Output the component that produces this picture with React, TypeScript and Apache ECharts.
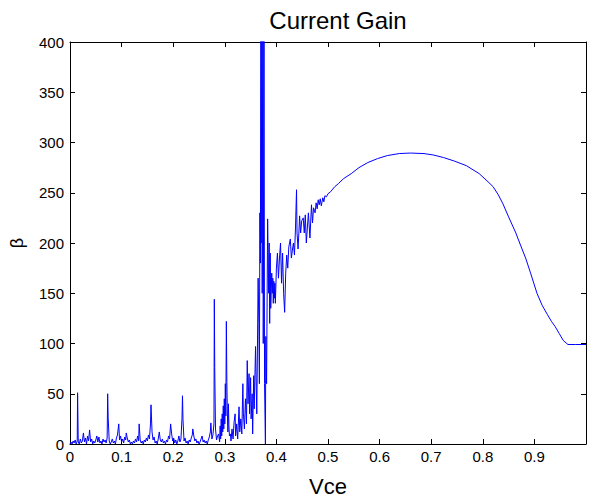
import React, { useEffect, useRef } from "react";
import * as echarts from "echarts";

const xTicks = [0, 0.1, 0.2, 0.3, 0.4, 0.5, 0.6, 0.7, 0.8, 0.9, 1.0];
const yTicks = [0, 50, 100, 150, 200, 250, 300, 350, 400];

// [Vce, beta] pairs
const segLow: number[][] = [
  [0, 0], [0.002, 2], [0.004, 0], [0.006, 3], [0.008, 1], [0.01, 4], [0.012, 0], [0.014, 3], [0.0147, 51], [0.016, 2],
  [0.018, 0], [0.02, 5], [0.022, 1], [0.024, 3], [0.026, 11], [0.028, 2], [0.03, 6], [0.032, 0], [0.034, 8], [0.036, 3],
  [0.038, 14], [0.04, 2], [0.042, 5], [0.044, 0], [0.046, 3], [0.048, 1], [0.05, 4], [0.052, 8], [0.054, 2], [0.056, 7],
  [0.058, 1], [0.06, 3], [0.062, 0], [0.064, 5], [0.066, 2], [0.068, 4], [0.07, 1], [0.072, 6], [0.073, 50], [0.074, 26],
  [0.076, 3], [0.078, 0], [0.08, 2], [0.082, 5], [0.084, 1], [0.086, 3], [0.088, 0], [0.09, 6], [0.092, 9], [0.0945, 20],
  [0.096, 4], [0.098, 8], [0.1, 2], [0.102, 5], [0.104, 1], [0.106, 7], [0.108, 4], [0.109, 11], [0.111, 6], [0.113, 2],
  [0.115, 4], [0.117, 0], [0.119, 2], [0.121, 0], [0.123, 3], [0.125, 1], [0.127, 5], [0.129, 2], [0.131, 8], [0.133, 3],
  [0.134, 20], [0.136, 4], [0.138, 1], [0.14, 3], [0.142, 0], [0.144, 4], [0.146, 2], [0.148, 6], [0.15, 3], [0.152, 9],
  [0.154, 5], [0.156, 20], [0.157, 39], [0.159, 12], [0.161, 4], [0.163, 7], [0.165, 1], [0.167, 3], [0.169, 0], [0.171, 5],
  [0.173, 12], [0.175, 4], [0.177, 2], [0.179, 5], [0.181, 1], [0.183, 3], [0.185, 0], [0.187, 4], [0.189, 2], [0.191, 8],
  [0.193, 5], [0.195, 20], [0.197, 10], [0.199, 3], [0.201, 6], [0.203, 1], [0.205, 4], [0.207, 0], [0.209, 3], [0.211, 8],
  [0.213, 2], [0.215, 5], [0.217, 25], [0.218, 48], [0.219, 24], [0.221, 3], [0.223, 6], [0.225, 1], [0.227, 3], [0.229, 0],
  [0.231, 4], [0.233, 2], [0.235, 6], [0.237, 9], [0.238, 15], [0.24, 8], [0.242, 3], [0.244, 5], [0.246, 1], [0.248, 3],
  [0.25, 0], [0.252, 2], [0.254, 5], [0.256, 8], [0.258, 2], [0.26, 4], [0.262, 1], [0.264, 3], [0.266, 0], [0.268, 4],
  [0.27, 7],
];

const segSpike: number[][] = [
  [0.272, 12], [0.273, 21], [0.275, 5], [0.277, 9], [0.279, 20], [0.2797, 144], [0.2805, 76], [0.282, 15], [0.284, 4], [0.286, 8],
  [0.288, 10], [0.29, 2], [0.291, 18], [0.292, 5], [0.293, 25], [0.294, 8], [0.295, 30], [0.296, 12], [0.297, 38], [0.298, 15],
  [0.299, 45], [0.3, 20], [0.301, 60], [0.302, 28], [0.303, 122], [0.304, 61], [0.305, 30], [0.306, 12], [0.307, 40], [0.308, 18],
  [0.309, 8], [0.311, 10], [0.312, 3], [0.314, 15], [0.316, 5], [0.318, 22], [0.32, 30], [0.321, 8], [0.323, 20], [0.325, 5],
  [0.3276, 37], [0.329, 12], [0.331, 25], [0.333, 10], [0.335, 60], [0.336, 30], [0.338, 15], [0.34, 45], [0.342, 20], [0.3435, 83],
  [0.345, 40], [0.347, 70], [0.348, 30], [0.35, 66], [0.351, 25], [0.353, 50], [0.354, 10], [0.356, 68], [0.357, 35], [0.3596, 97],
  [0.361, 55], [0.362, 30], [0.3646, 165], [0.366, 120], [0.367, 60], [0.368, 230], [0.369, 180], [0.37, 420], [0.3705, 200], [0.371, 285],
  [0.372, 420], [0.3725, 150], [0.373, 300], [0.374, 420], [0.3745, 100], [0.375, 200], [0.376, 420], [0.377, 60], [0.3787, 0], [0.3795, 107],
  [0.381, 60], [0.383, 224], [0.385, 150], [0.386, 200], [0.387, 120], [0.388, 190], [0.389, 135], [0.391, 170], [0.392, 150], [0.393, 165],
  [0.394, 140], [0.395, 162], [0.396, 145], [0.397, 160], [0.398, 140], [0.4, 175],
];

const segRise: number[][] = [
  [0.402, 190], [0.404, 165], [0.406, 185], [0.408, 200], [0.41, 160], [0.412, 190], [0.414, 150], [0.416, 131], [0.418, 170], [0.42, 188],
  [0.422, 175], [0.424, 196], [0.427, 204], [0.429, 185], [0.431, 193], [0.433, 200], [0.435, 188], [0.437, 215], [0.439, 253], [0.44, 210],
  [0.442, 194], [0.444, 215], [0.445, 227], [0.447, 210], [0.449, 222], [0.452, 225], [0.454, 210], [0.456, 228], [0.458, 200], [0.46, 215],
  [0.462, 230], [0.465, 205], [0.468, 238], [0.47, 220], [0.472, 235], [0.475, 230], [0.477, 240], [0.479, 234], [0.481, 243], [0.483, 238],
  [0.485, 244], [0.487, 237], [0.49, 245], [0.492, 241], [0.494, 247], [0.497, 246], [0.5, 249],
];

const segSmooth: number[][] = [
  [0.505, 251], [0.513, 256], [0.52, 259], [0.53, 264], [0.545, 269], [0.56, 275], [0.577, 280], [0.596, 284], [0.615, 287], [0.638, 289],
  [0.66, 289.5], [0.686, 289], [0.705, 287.5], [0.724, 285], [0.745, 281.5], [0.768, 277], [0.793, 269], [0.81, 261], [0.82, 256], [0.83, 248],
  [0.839, 239], [0.85, 226], [0.864, 210], [0.873, 198], [0.883, 185], [0.892, 171], [0.905, 150], [0.915, 138], [0.925, 129], [0.933, 122],
  [0.94, 117], [0.948, 110], [0.956, 103], [0.965, 99], [0.98, 99], [1.0, 99],
];

const FONT = "Liberation Sans, Arial, sans-serif";

export default function App() {
  const ref = useRef<HTMLDivElement>(null);
  useEffect(() => {
    if (!ref.current) return;
    const chart = echarts.init(ref.current, undefined, { renderer: "svg" });
    const data = [...segLow, ...segSpike, ...segRise, ...segSmooth];
    const axisLine = { show: true, onZero: false, lineStyle: { color: "#000", width: 1 } };
    const tickIn = { show: true, inside: true, length: 5, lineStyle: { color: "#000", width: 1 } };
    chart.setOption({
      animation: false,
      backgroundColor: "#fff",
      title: {
        text: "Current Gain",
        left: 333,
        top: 3,
        textAlign: "center",
        textStyle: { fontFamily: FONT, fontSize: 24, fontWeight: "normal", color: "#000" },
      },
      grid: { left: 69, right: -3, top: 42, bottom: 49, containLabel: false },
      xAxis: [
        {
          type: "value",
          min: xTicks[0],
          max: xTicks[xTicks.length - 1],
          interval: 0.1,
          position: "bottom",
          name: "Vce",
          nameLocation: "middle",
          nameGap: 31,
          nameTextStyle: { fontFamily: FONT, fontSize: 22, color: "#000" },
          axisLine,
          axisTick: tickIn,
          splitLine: { show: false },
          axisLabel: {
            fontFamily: FONT,
            fontSize: 15,
            color: "#000",
            margin: 5,
            formatter: (v: number) => {
              if (Math.abs(v - 1) < 1e-9) return "";
              if (Math.abs(v) < 1e-9) return "0";
              return v.toFixed(1);
            },
          },
        },
        {
          type: "value",
          min: xTicks[0],
          max: xTicks[xTicks.length - 1],
          interval: 0.1,
          position: "top",
          axisLine,
          axisTick: tickIn,
          axisLabel: { show: false },
          splitLine: { show: false },
        },
      ],
      yAxis: [
        {
          type: "value",
          min: yTicks[0],
          max: yTicks[yTicks.length - 1],
          interval: 50,
          position: "left",
          name: "β",
          nameLocation: "middle",
          nameGap: 44,
          nameRotate: 90,
          nameTextStyle: { fontFamily: FONT, fontSize: 18, color: "#000" },
          axisLine,
          axisTick: tickIn,
          splitLine: { show: false },
          axisLabel: { fontFamily: FONT, fontSize: 15, color: "#000", margin: 6 },
        },
        {
          type: "value",
          min: yTicks[0],
          max: yTicks[yTicks.length - 1],
          interval: 50,
          position: "right",
          axisLine,
          axisTick: tickIn,
          axisLabel: { show: false },
          splitLine: { show: false },
        },
      ],
      series: [
        {
          type: "line",
          data,
          xAxisIndex: 0,
          yAxisIndex: 0,
          showSymbol: false,
          symbol: "none",
          clip: true,
          lineStyle: { color: "#0000ff", width: 1 },
        },
      ],
    });
    return () => chart.dispose();
  }, []);
  return (
    <div
      ref={ref}
      style={{ position: "fixed", left: 0, top: 0, width: 589, height: 502, background: "#fff" }}
    />
  );
}
